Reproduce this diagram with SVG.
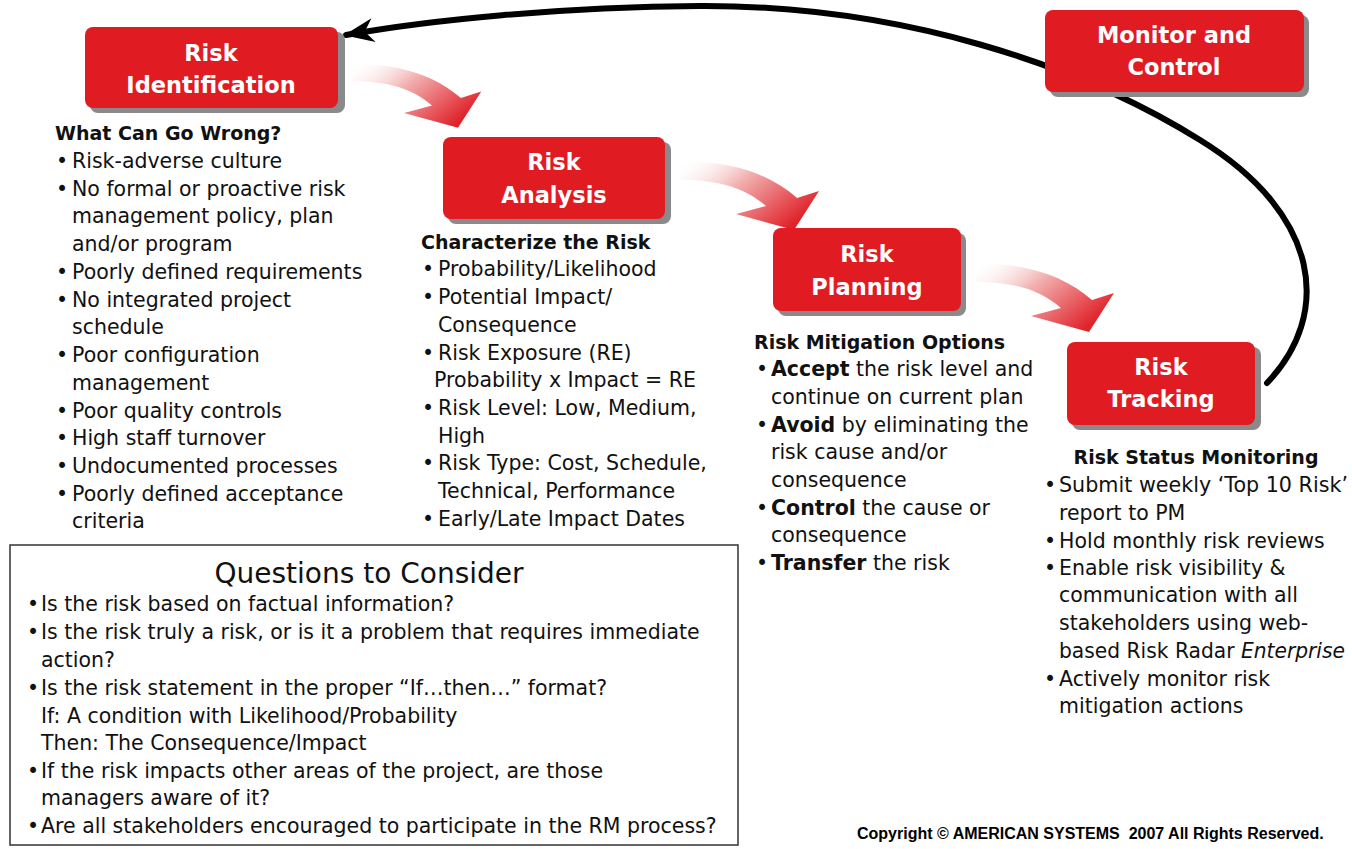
<svg xmlns="http://www.w3.org/2000/svg" width="1352" height="849" viewBox="0 0 1352 849">
<style>
.t{font-family:"DejaVu Sans",sans-serif;font-size:20.5px;fill:#111}
.h{font-weight:bold}
.hd{font-family:"DejaVu Sans",sans-serif;font-size:19px;font-weight:bold;fill:#111}
.bx{font-family:"DejaVu Sans",sans-serif;font-size:22.5px;font-weight:bold;fill:#fff;text-anchor:middle}
.box{fill:#e11b22}
.sh{fill:#8a8a8a}
.fa{fill:url(#fade)}
</style>
<defs>
<linearGradient id="fade" x1="0" y1="0" x2="1" y2="0.6">
<stop offset="0" stop-color="#ffffff" stop-opacity="0"/>
<stop offset="0.45" stop-color="#f2b0b0"/>
<stop offset="1" stop-color="#e0232b"/>
</linearGradient>
<marker id="ah" markerUnits="userSpaceOnUse" markerWidth="40" markerHeight="40" viewBox="-34 -16 40 32" refX="0" refY="0" orient="auto">
<path d="M2,0 L-28,-12 L-19,0 L-28,12 Z" fill="#000"/>
</marker>
<path id="farrow" d="M0,-8 C50,-10 90,4 117,28 L139,21 L114,60 L56,44 L86,36 C65,18 40,10 0,10 Z"/>
</defs>

<g id="connectors">
<path d="M1267,383 C1332,315 1322,215 1200,140 C1080,65 900,5 700,6 C560,7 430,20 346,35" fill="none" stroke="#000" stroke-width="6" stroke-linecap="round" marker-end="url(#ah)"/>
<use href="#farrow" class="fa" transform="translate(352,72) scale(0.93)"/>
<use href="#farrow" class="fa" transform="translate(680,170)"/>
<use href="#farrow" class="fa" transform="translate(975,272)"/>
</g>

<g id="risk-identification">
<rect class="sh" x="90" y="32" width="255" height="81" rx="8"/>
<rect class="box" x="85" y="27" width="253" height="81" rx="8"/>
<text class="bx" x="211" y="61">Risk</text>
<text class="bx" x="211" y="93">Identification</text>
</g>

<g id="risk-analysis">
<rect class="sh" x="448" y="142" width="223" height="82" rx="8"/>
<rect class="box" x="443" y="137" width="222" height="82" rx="8"/>
<text class="bx" x="554" y="170">Risk</text>
<text class="bx" x="554" y="203">Analysis</text>
</g>

<g id="risk-planning">
<rect class="sh" x="778" y="233" width="188" height="83" rx="8"/>
<rect class="box" x="773" y="228" width="188" height="83" rx="8"/>
<text class="bx" x="867" y="262">Risk</text>
<text class="bx" x="867" y="295">Planning</text>
</g>

<g id="risk-tracking">
<rect class="sh" x="1072" y="347" width="189" height="83" rx="8"/>
<rect class="box" x="1067" y="342" width="188" height="83" rx="8"/>
<text class="bx" x="1161" y="375">Risk</text>
<text class="bx" x="1161" y="407">Tracking</text>
</g>

<g id="monitor-control">
<rect class="sh" x="1050" y="15" width="259" height="82" rx="8"/>
<rect class="box" x="1045" y="10" width="259" height="82" rx="8"/>
<text class="bx" x="1174" y="43">Monitor and</text>
<text class="bx" x="1174" y="75">Control</text>
</g>

<g id="identification-notes">
<text class="hd" x="55" y="140">What Can Go Wrong?</text>
<text class="t" x="56" y="168">•</text><text class="t" x="72" y="168">Risk-adverse culture</text>
<text class="t" x="56" y="196">•</text><text class="t" x="72" y="196">No formal or proactive risk</text>
<text class="t" x="72" y="223">management policy, plan</text>
<text class="t" x="72" y="251">and/or program</text>
<text class="t" x="56" y="279">•</text><text class="t" x="72" y="279">Poorly defined requirements</text>
<text class="t" x="56" y="307">•</text><text class="t" x="72" y="307">No integrated project</text>
<text class="t" x="72" y="334">schedule</text>
<text class="t" x="56" y="362">•</text><text class="t" x="72" y="362">Poor configuration</text>
<text class="t" x="72" y="390">management</text>
<text class="t" x="56" y="418">•</text><text class="t" x="72" y="418">Poor quality controls</text>
<text class="t" x="56" y="445">•</text><text class="t" x="72" y="445">High staff turnover</text>
<text class="t" x="56" y="473">•</text><text class="t" x="72" y="473">Undocumented processes</text>
<text class="t" x="56" y="501">•</text><text class="t" x="72" y="501">Poorly defined acceptance</text>
<text class="t" x="72" y="528">criteria</text>
</g>

<g id="analysis-notes">
<text class="hd" x="421" y="249">Characterize the Risk</text>
<text class="t" x="422" y="276">•</text><text class="t" x="438" y="276">Probability/Likelihood</text>
<text class="t" x="422" y="304">•</text><text class="t" x="438" y="304">Potential Impact/</text>
<text class="t" x="438" y="332">Consequence</text>
<text class="t" x="422" y="360">•</text><text class="t" x="438" y="360">Risk Exposure (RE)</text>
<text class="t" x="434" y="387">Probability x Impact = RE</text>
<text class="t" x="422" y="415">•</text><text class="t" x="438" y="415">Risk Level: Low, Medium,</text>
<text class="t" x="438" y="443">High</text>
<text class="t" x="422" y="470">•</text><text class="t" x="438" y="470">Risk Type: Cost, Schedule,</text>
<text class="t" x="438" y="498">Technical, Performance</text>
<text class="t" x="422" y="526">•</text><text class="t" x="438" y="526">Early/Late Impact Dates</text>
</g>

<g id="planning-notes">
<text class="hd" x="754" y="349">Risk Mitigation Options</text>
<text class="t" x="756" y="376">•</text><text class="t" x="771" y="376"><tspan class="h">Accept</tspan> the risk level and</text>
<text class="t" x="771" y="404">continue on current plan</text>
<text class="t" x="756" y="432">•</text><text class="t" x="771" y="432"><tspan class="h">Avoid</tspan> by eliminating the</text>
<text class="t" x="771" y="459">risk cause and/or</text>
<text class="t" x="771" y="487">consequence</text>
<text class="t" x="756" y="515">•</text><text class="t" x="771" y="515"><tspan class="h">Control</tspan> the cause or</text>
<text class="t" x="771" y="542">consequence</text>
<text class="t" x="756" y="570">•</text><text class="t" x="771" y="570"><tspan class="h">Transfer</tspan> the risk</text>
</g>

<g id="tracking-notes">
<text class="hd" x="1196" y="464" text-anchor="middle">Risk Status Monitoring</text>
<text class="t" x="1044" y="492">•</text><text class="t" x="1059" y="492" textLength="289" lengthAdjust="spacingAndGlyphs">Submit weekly ‘Top 10 Risk’</text>
<text class="t" x="1059" y="520">report to PM</text>
<text class="t" x="1044" y="548">•</text><text class="t" x="1059" y="548">Hold monthly risk reviews</text>
<text class="t" x="1044" y="575">•</text><text class="t" x="1059" y="575">Enable risk visibility &amp;</text>
<text class="t" x="1059" y="602">communication with all</text>
<text class="t" x="1059" y="630">stakeholders using web-</text>
<text class="t" x="1059" y="658" textLength="286" lengthAdjust="spacingAndGlyphs">based Risk Radar <tspan font-style="italic">Enterprise</tspan></text>
<text class="t" x="1044" y="686">•</text><text class="t" x="1059" y="686">Actively monitor risk</text>
<text class="t" x="1059" y="713">mitigation actions</text>
</g>

<g id="questions">
<rect x="10" y="545" width="728" height="300" fill="#fff" stroke="#333" stroke-width="1.5"/>
<text class="t" x="369" y="583" text-anchor="middle" style="font-size:28px">Questions to Consider</text>
<text class="t" x="27" y="611">•</text><text class="t" x="41" y="611">Is the risk based on factual information?</text>
<text class="t" x="27" y="639">•</text><text class="t" x="41" y="639">Is the risk truly a risk, or is it a problem that requires immediate</text>
<text class="t" x="41" y="667">action?</text>
<text class="t" x="27" y="695">•</text><text class="t" x="41" y="695">Is the risk statement in the proper “If…then…” format?</text>
<text class="t" x="41" y="723">If: A condition with Likelihood/Probability</text>
<text class="t" x="41" y="750">Then: The Consequence/Impact</text>
<text class="t" x="27" y="778">•</text><text class="t" x="41" y="778">If the risk impacts other areas of the project, are those</text>
<text class="t" x="41" y="805">managers aware of it?</text>
<text class="t" x="27" y="833">•</text><text class="t" x="41" y="833">Are all stakeholders encouraged to participate in the RM process?</text>
</g>

<text id="copyright" x="857" y="839" style="font-family:'Liberation Sans',Arial,sans-serif;font-size:16px;font-weight:bold;fill:#000;white-space:pre">Copyright © AMERICAN SYSTEMS  2007 All Rights Reserved.</text>
</svg>
